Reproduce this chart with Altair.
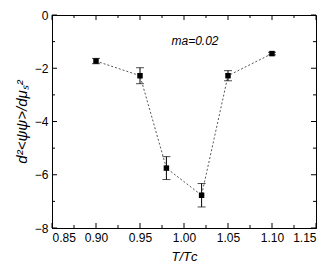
import altair as alt
import pandas as pd

t = [0.90, 0.95, 0.98, 1.02, 1.05, 1.10]
val = [-1.73, -2.28, -5.75, -6.77, -2.28, -1.45]
err = [0.10, 0.30, 0.43, 0.44, 0.19, 0.05]

xticks_major = [0.85, 0.90, 0.95, 1.00, 1.05, 1.10, 1.15]
xticks_minor = [0.875, 0.925, 0.975, 1.025, 1.075, 1.125]
yticks_major = [0, -2, -4, -6, -8]
yticks_minor = [-1, -3, -5, -7]

df = pd.DataFrame({"t": t, "v": val, "lo": [v - e for v, e in zip(val, err)],
                   "hi": [v + e for v, e in zip(val, err)]})

W, H = 264, 213
xs = alt.Scale(domain=[0.85, 1.15], nice=False)
ys = alt.Scale(domain=[-8, 0], nice=False)
font = "Liberation Sans"

base = alt.Chart(df)
line = base.mark_line(color="#555", strokeDash=[2, 2], strokeWidth=1).encode(
    x=alt.X("t:Q", scale=xs, axis=alt.Axis(values=xticks_major, format=".2f", title="T/Tᴄ",
                                          grid=False, tickSize=0, labelPadding=4,
                                          titleFontStyle="italic", titlePadding=7)),
    y=alt.Y("v:Q", scale=ys, axis=alt.Axis(values=yticks_major, format="d",
                                          title="d²<ψψ>/dμₛ²", grid=False, tickSize=0,
                                          labelPadding=4, titleFontStyle="italic",
                                          titleFontSize=15, titlePadding=5)),
)
bars = base.mark_rule(color="black", strokeWidth=1).encode(
    x="t:Q", y=alt.Y("lo:Q"), y2="hi:Q")
caps_lo = base.mark_tick(color="black", size=8, thickness=1, orient="horizontal").encode(
    x="t:Q", y="lo:Q")
caps_hi = base.mark_tick(color="black", size=8, thickness=1, orient="horizontal").encode(
    x="t:Q", y="hi:Q")
pts = base.mark_square(color="black", size=30, opacity=1).encode(x="t:Q", y="v:Q")

txt = alt.Chart(pd.DataFrame({"x": [1.0125], "y": [-0.98], "s": ["ma=0.02"]})).mark_text(
    font=font, fontSize=12, fontStyle="italic", color="black").encode(
    x=alt.X("x:Q", scale=xs), y=alt.Y("y:Q", scale=ys), text="s:N")

# inward ticks
xmaj = pd.DataFrame({"x": xticks_major})
xmin = pd.DataFrame({"x": xticks_minor})
ymaj = pd.DataFrame({"y": yticks_major})
ymin = pd.DataFrame({"y": yticks_minor})


def xt(d, L):
    b = alt.Chart(d).mark_rule(color="black", strokeWidth=1)
    return (b.encode(x=alt.X("x:Q", scale=xs), y=alt.value(H), y2=alt.value(H - L)) +
            b.encode(x=alt.X("x:Q", scale=xs), y=alt.value(0), y2=alt.value(L)))


def yt(d, L):
    b = alt.Chart(d).mark_rule(color="black", strokeWidth=1)
    return (b.encode(y=alt.Y("y:Q", scale=ys), x=alt.value(0), x2=alt.value(L)) +
            b.encode(y=alt.Y("y:Q", scale=ys), x=alt.value(W), x2=alt.value(W - L)))


chart = alt.layer(line, bars, caps_lo, caps_hi, pts, txt,
                  xt(xmaj, 5), xt(xmin, 3), yt(ymaj, 5), yt(ymin, 3)).properties(
    width=W, height=H,
    autosize=alt.AutoSizeParams(type="none"),
    padding={"left": 44, "top": 7, "right": 9, "bottom": 42},
).configure_axis(
    labelFont=font, titleFont=font, labelFontSize=12, titleFontSize=13,
    labelColor="black", titleColor="black", domainColor="black", titleFontWeight="normal",
).configure_view(stroke="black", strokeWidth=1)

chart.save("out.html", embed_options={"renderer": "svg", "actions": False})
